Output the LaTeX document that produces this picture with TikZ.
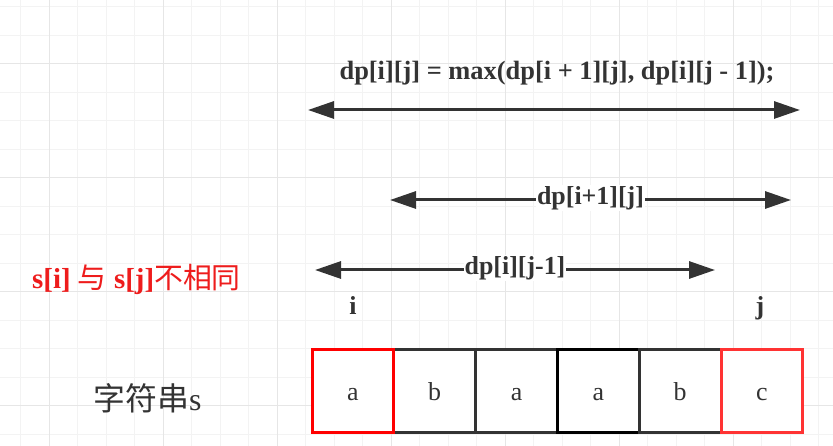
\documentclass[tikz,border=0pt]{standalone}
\usepackage{fontspec}
\setmainfont{Liberation Serif}
\newfontfamily\cjk{Noto Sans CJK SC}
\usetikzlibrary{arrows.meta}
\definecolor{ink}{HTML}{333333}
\definecolor{gridminor}{HTML}{F3F3F3}
\definecolor{gridmajor}{HTML}{E6E6E6}
\definecolor{hired}{HTML}{FF0000}
\definecolor{softred}{HTML}{FF3333}
\definecolor{notered}{HTML}{EE1C1C}

\begin{document}
\begin{tikzpicture}[x=1bp,y=-1bp]
\tikzset{
  span/.style={ink,line width=3bp,{Triangle[length=26bp,width=17bp]}-{Triangle[length=26bp,width=17bp]}},
  spanlabel/.style={fill=white,inner sep=1bp,text=ink,font=\bfseries\fontsize{26}{30}\selectfont},
  boldtext/.style={text=ink,inner sep=0pt,font=\bfseries\fontsize{26}{30}\selectfont},
  cell/.style={draw=#1,fill=white,line width=3bp,minimum width=81.8bp,minimum height=83bp,
    inner sep=0pt,text height=18bp,text depth=0bp,text=ink,font=\fontsize{26}{30}\selectfont}
}
\useasboundingbox (0,0) rectangle (833,446);
\fill[white] (0,0) rectangle (833,446);
\foreach \x in {20.7,49.2,...,833} \draw[gridminor,line width=1bp] (\x,0) -- (\x,446);
\foreach \y in {6.7,35.2,...,446} \draw[gridminor,line width=1bp] (0,\y) -- (833,\y);
\foreach \x in {49.2,163.2,...,833} \draw[gridmajor,line width=1bp] (\x,0) -- (\x,446);
\foreach \y in {63.7,177.7,...,446} \draw[gridmajor,line width=1bp] (0,\y) -- (833,\y);

\node[boldtext,anchor=base,font=\bfseries\fontsize{26.5}{30}\selectfont] (formula) at (557,80)
  {dp[i][j] = max(dp[i + 1][j], dp[i][j - 1]);};
\coordinate (f0) at (308,110);
\coordinate (f1) at (800,110);
\draw[span] (f0) -- (f1);

\coordinate (u0) at (390,200);
\coordinate (u1) at (791,200);
\draw[span] (u0) -- node[spanlabel,yshift=2bp] (up) {dp[i+1][j]} (u1);

\coordinate (l0) at (315,270);
\coordinate (l1) at (715,270);
\draw[span] (l0) -- node[spanlabel,yshift=2bp] (left) {dp[i][j-1]} (l1);

\node[boldtext,anchor=base] (i) at (353,315) {i};
\node[boldtext,anchor=base] (j) at (760,315) {j};

\node[anchor=base,inner sep=0pt,text=notered,font=\bfseries\fontsize{29}{33}\selectfont] (diff) at (136.5,289)
  {s[i] {\cjk\mdseries 与} s[j]{\cjk\mdseries 不相同}};
\node[anchor=base,inner sep=0pt,text=ink,font=\fontsize{32}{36}\selectfont] (str) at (147.5,410) {{\cjk 字符串}s};

\foreach \k/\ch/\col in {2/b/ink,3/a/ink,4/a/black,5/b/ink,1/a/hired,6/c/softred}
  \node[cell=\col] (c\k) at ({312+81.8*(\k-0.5)},391) {\ch};
\end{tikzpicture}
\end{document}
